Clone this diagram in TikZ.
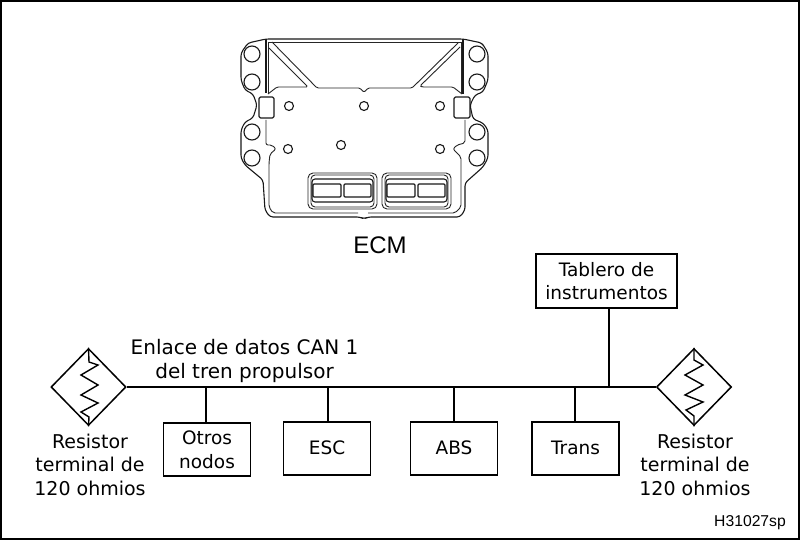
\documentclass[tikz,border=0pt]{standalone}
\usepackage{fontspec}
\setmainfont{DejaVu Sans}
\newfontfamily\arialfont{Liberation Sans}
\usetikzlibrary{shapes.geometric}
\tikzset{
  x=1pt,y=-1pt,
  busline/.style={line width=1.8pt,black},
  unitbox/.style={draw=black,line width=1.8pt,minimum width=87pt,minimum height=53pt,inner sep=0pt,align=center,font=\fontsize{18.5}{24}\selectfont},
  termdiamond/.style={draw=black,line width=1.5pt,diamond,aspect=1,minimum width=75pt,minimum height=77pt,inner sep=0pt},
  zig/.style={line width=1.4pt,black,line join=miter},
  caption/.style={align=center,font=\fontsize{19}{23.5}\selectfont,inner sep=0pt},
  ecm/.style={line width=1.1pt,black!90,line join=round},
  ecmthin/.style={line width=0.9pt,black!85,line join=round}
}
\begin{document}
\begin{tikzpicture}
\useasboundingbox (0,0) rectangle (800,540);
\fill[white] (0,0) rectangle (800,540);
\draw[line width=2pt] (1,1) rectangle (799,538.5);
% ECM outline
\draw[ecm,rounded corners=3pt] (266,39) -- (248,43) -- (241,53) -- (241,80) -- (245,90) -- (253,94) -- (257,105) -- (253,118) -- (245,122) -- (241,130) -- (241,158) -- (245,165) -- (263,180) -- (265,210) -- (270,217) -- (360,217) -- (364,219) -- (368,217) -- (460,217) -- (465,210) -- (465,183) -- (483,167) -- (488,158) -- (488,130) -- (483,123) -- (473,119) -- (470,105) -- (475,95) -- (483,92) -- (488,80) -- (488,53) -- (482,43) -- (463,39) -- cycle;
% top double line and verticals
\draw[ecm] (266,39) -- (266,93);
\draw[ecmthin] (268,42) -- (268,93);
\draw[ecm] (463,39) -- (463,94);
\draw[ecmthin] (461,42) -- (461,94);
\draw[ecmthin] (268,42) -- (461,42);
% inner trapezoid
\draw[ecmthin,rounded corners=1.5pt] (272,42) -- (317,88) -- (360,88) -- (364,92.5) -- (368,88) -- (412,88) -- (458,43);
% triangles
\draw[ecmthin,rounded corners=1.5pt] (269,48) -- (308,87) -- (277,87) -- (268,94);
\draw[ecmthin,rounded corners=1.5pt] (460,47) -- (420,86) -- (422,87) -- (453,87) -- (462,94);
% big holes
\foreach \hx/\hy in {252/54,252/82,252/132,252/158,477/54,477/82,477/132,477/158}
  \draw[ecm] (\hx,\hy) circle[radius=8];
% small holes
\foreach \hx/\hy in {289/106,364/106,440/106,288/149,341/145,440/149}
  \draw[ecm] (\hx,\hy) circle[radius=4.5];
% side squares
\draw[ecm,rounded corners=1.5pt] (259,97) rectangle (274,118);
\draw[ecm,rounded corners=1.5pt] (454,97) rectangle (470,118);
% lower body
\draw[ecmthin,rounded corners=2pt] (266,120) -- (266,145) -- (272,145) -- (276,149) -- (270,154) -- (269,163) -- (269,207) -- (273,213) -- (358,213);
\draw[ecmthin,rounded corners=2pt] (368,213) -- (455,213) -- (461,207) -- (461,157) -- (453,149) -- (457,145) -- (465,143) -- (465,120);
% connectors
\foreach \cx in {0,74}{
  \begin{scope}[xshift=\cx pt]
  \draw[ecmthin,rounded corners=5pt] (308,173) rectangle (377,209);
  \draw[ecmthin,rounded corners=4pt] (311,175) rectangle (374,207);
  \draw[ecm,rounded corners=3pt] (312,179) rectangle (373,202);
  \draw[ecm,rounded corners=1pt] (313,184) rectangle (341,197);
  \draw[ecm,rounded corners=1pt] (344,184) rectangle (371,197);
  \end{scope}
}
\node[font=\arialfont\fontsize{24}{28}\selectfont,inner sep=0pt] (ecmlabel) at (380,245) {ECM};
% network
\node[unitbox,minimum width=141pt,minimum height=54pt,font=\fontsize{18.5}{23.5}\selectfont] (tablero) at (606.5,281) {Tablero de\\instrumentos};
\node[termdiamond] (rleft) at (88.5,387) {};
\node[termdiamond] (rright) at (694,387) {};
\node[unitbox] (otros) at (207,449.5) {Otros\\nodos};
\node[unitbox] (esc) at (327,448.5) {\raisebox{2pt}{ESC}};
\node[unitbox] (abs) at (454,448.5) {\raisebox{2pt}{ABS}};
\node[unitbox] (trans) at (575.5,448.5) {\raisebox{2pt}{Trans}};
\draw[busline] (rleft.east) -- (rright.west);
\coordinate (tapo) at (206,387);
\coordinate (tape) at (328,387);
\coordinate (tapa) at (454,387);
\coordinate (tapt) at (575,387);
\coordinate (tapi) at (609,387);
\draw[busline] (tapo) -- (otros.north -| tapo);
\draw[busline] (tape) -- (esc.north -| tape);
\draw[busline] (tapa) -- (abs.north);
\draw[busline] (tapt) -- (trans.north -| tapt);
\draw[busline] (tapi) -- (tablero.south -| tapi);
% resistors
\draw[zig] (rleft.north) -- (89,362) -- (98,365) -- (81,375) -- (98,385) -- (81,395) -- (98,403) -- (81,412) -- (89,417) -- (rleft.south);
\draw[zig] (rright.north) -- (694,360) -- (703,365) -- (685,375) -- (703,385) -- (685,395) -- (703,402) -- (686,410) -- (694,416) -- (rright.south);
% texts
\node[caption,font=\fontsize{20}{23.5}\selectfont] (bus) at (244.5,361) {Enlace de datos CAN 1\\del tren propulsor};
\node[caption] (capl) at (90,464.5) {Resistor\\terminal de\\120 ohmios};
\node[caption] (capr) at (695,464.5) {Resistor\\terminal de\\120 ohmios};
\node[font=\arialfont\fontsize{15.7}{18}\selectfont,inner sep=0pt,anchor=east] (code) at (786,523) {H31027sp};
\end{tikzpicture}
\end{document}
